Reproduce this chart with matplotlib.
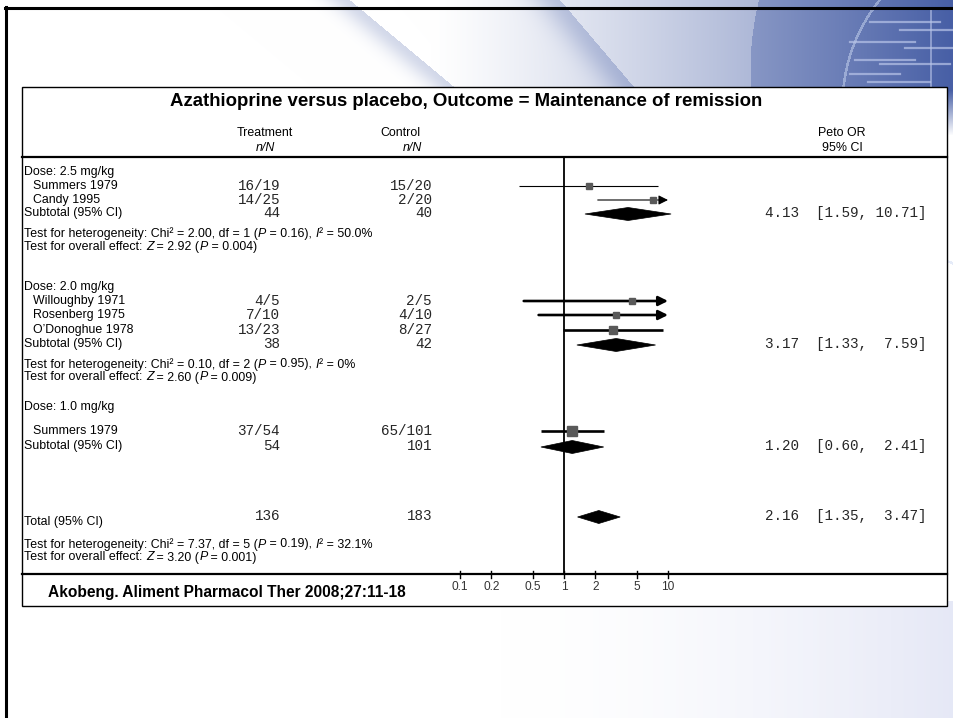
import numpy as np
import matplotlib.pyplot as plt
from matplotlib.patches import Rectangle, Polygon

plt.rcParams['font.family'] = ['Liberation Sans', 'DejaVu Sans']

# --- data -------------------------------------------------------------
title = "Azathioprine versus placebo, Outcome = Maintenance of remission"
source = "Akobeng. Aliment Pharmacol Ther 2008;27:11-18"

doses = ["Dose: 2.5 mg/kg", "Dose: 2.0 mg/kg", "Dose: 1.0 mg/kg"]
studies = ["Summers 1979", "Candy 1995", "Willoughby 1971", "Rosenberg 1975",
           "O\u2019Donoghue 1978", "Summers 1979"]
study_dose = [0, 0, 1, 1, 1, 2]
treat_n = [16, 14, 4, 7, 13, 37]
treat_N = [19, 25, 5, 10, 23, 54]
ctrl_n = [15, 2, 2, 4, 8, 65]
ctrl_N = [20, 20, 5, 10, 27, 101]
study_or = [1.73, 7.11, 4.48, 3.16, 2.95, 1.20]
study_lo = [0.37, 2.11, 0.41, 0.57, 0.97, 0.60]
study_hi = [8.05, 23.98, 49.4, 17.6, 9.00, 2.41]
study_weight = [9.4, 15.1, 3.9, 7.5, 17.9, 46.1]

sub_treat = [44, 38, 54]
sub_ctrl = [40, 42, 101]
sub_or = [4.13, 3.17, 1.20]
sub_lo = [1.59, 1.33, 0.60]
sub_hi = [10.71, 7.59, 2.41]

total_treat, total_ctrl = 136, 183
total_or, total_lo, total_hi = 2.16, 1.35, 3.47

# heterogeneity / overall effect: three subgroups then the total
het_chi = [2.00, 0.10, 7.37]
het_df = [1, 2, 5]
het_p = ["0.16", "0.95", "0.19"]
het_i2 = ["50.0%", "0%", "32.1%"]
eff_z = [2.92, 2.60, 3.20]
eff_p = ["0.004", "0.009", "0.001"]

ticks = [0.1, 0.2, 0.5, 1, 2, 5, 10]

# --- layout (pixel rows) ---------------------------------------------
W, H = 954, 718
group_y = [172, 287, 407]
study_y = [186, 200, 301, 315, 330, 431]
sub_y = [213, 344, 446]
het_y = [234, 364.5, 544.5]
total_y, total_label_y = 516, 522
study_lw = [0.8, 0.8, 1.9, 1.9, 1.9, 1.9]

x_label, x_indent = 24, 33
x_treat, x_ctrl, x_stat = 280, 432, 927
mono = 'Liberation Mono'
mono_col = '#262626'
fs, fs_mono = 8.9, 10.3

fig = plt.figure(figsize=(W / 100, H / 100), dpi=100)
renderer = fig.canvas.get_renderer()

# slide background
bg = fig.add_axes([0, 0, 1, 1])
bg.set_xlim(0, W)
bg.set_ylim(H, 0)
bg.axis('off')

yy, xx = np.mgrid[0:H, 0:W].astype(float)
tint = np.clip((xx - 430) / 520, 0, 1) ** 1.2 * 0.72
tint = np.where(np.hypot(xx - 1045, yy - 70) < 295, tint + 0.2, tint)
for x0, slope, width in [(350, 1.2, 24), (560, 0.85, 28)]:
    d = xx - (x0 + slope * yy)
    tint += np.where(d < 0, 0.22 * np.exp(-(d / width) ** 2), 0)
tint = np.clip(tint, 0, 0.95) * np.clip((135 - yy) / 45, 0, 1)
ring = np.abs(np.hypot(xx - 1010, yy - 105) - 168) < 1.3
lav = np.clip((xx - 500) / 454, 0, 1) ** 1.6 * 0.5 * (yy > 600)
blue = np.array([0.22, 0.32, 0.62])
lavender = np.array([0.80, 0.82, 0.93])
img = 1 - tint[..., None] * (1 - blue) - lav[..., None] * (1 - lavender)
img[ring] = img[ring] * 0.5 + 0.5 * np.array([0.80, 0.85, 0.95])
bg.imshow(np.clip(img, 0, 1), extent=[0, W, H, 0], interpolation='bilinear',
          aspect='auto', zorder=0)
for y, xa, xb in [(22, 870, 940), (30, 900, 954), (42, 850, 915), (48, 905, 954),
                  (60, 855, 915), (64, 880, 950), (74, 850, 900), (82, 868, 930)]:
    bg.plot([xa, xb], [y, y], color='#b8c4e8', lw=1.6, alpha=0.7, zorder=1)
bg.plot([931, 931], [8, 88], color='#b8c4e8', lw=1.2, alpha=0.7, zorder=1)
bg.plot([5, W], [7.5, 7.5], color='black', lw=2.2, zorder=3)
bg.plot([6, 6], [7, H], color='black', lw=2.2, zorder=3)

# panel
bg.add_patch(Rectangle((22, 87), 925, 519, facecolor='white',
                       edgecolor='black', lw=1.0, zorder=2))
bg.plot([22, 947], [157, 157], color='black', lw=1.6, zorder=3)
bg.plot([22, 947], [574, 574], color='black', lw=1.6, zorder=3)

txt = dict(va='center', zorder=4)
bg.text(466, 101, title, ha='center', fontsize=13.4, fontweight='bold', **txt)
bg.text(265, 133, "Treatment", ha='center', fontsize=fs, **txt)
bg.text(265, 148, "n/N", ha='center', fontsize=fs, style='italic', **txt)
bg.text(400, 133, "Control", ha='center', fontsize=fs, **txt)
bg.text(412, 148, "n/N", ha='center', fontsize=fs, style='italic', **txt)
bg.text(842, 133, "Peto OR", ha='center', fontsize=fs, **txt)
bg.text(842, 148, "95% CI", ha='center', fontsize=fs, **txt)
bg.text(48, 592, source, ha='left', fontsize=11.2, fontweight='bold', **txt)


def stat_text(o, lo, hi):
    return f"{o:.2f}  [{lo:.2f}, {hi:5.2f}]"


def text_width(s):
    t = bg.text(0, 0, s, fontsize=fs)
    w = t.get_window_extent(renderer).width
    t.remove()
    return w


def rich_text(x, y, parts):
    """Draw a line made of plain and italic pieces, left to right."""
    prefix = ""
    for s, italic in parts:
        off = text_width(prefix + "l") - text_width("l") if prefix else 0
        bg.text(x + off, y, s, ha='left', fontsize=fs,
                style='italic' if italic else 'normal', **txt)
        prefix += s


mono_txt = dict(fontsize=fs_mono, family=mono, color=mono_col, **txt)
for g, name in enumerate(doses):
    bg.text(x_label, group_y[g], name, ha='left', fontsize=fs, **txt)
    bg.text(x_label, sub_y[g], "Subtotal (95% CI)", ha='left', fontsize=fs, **txt)
    bg.text(x_treat, sub_y[g], str(sub_treat[g]), ha='right', **mono_txt)
    bg.text(x_ctrl, sub_y[g], str(sub_ctrl[g]), ha='right', **mono_txt)
    bg.text(x_stat, sub_y[g], stat_text(sub_or[g], sub_lo[g], sub_hi[g]),
            ha='right', **mono_txt)

for i, name in enumerate(studies):
    bg.text(x_indent, study_y[i], name, ha='left', fontsize=fs, **txt)
    bg.text(x_treat, study_y[i], f"{treat_n[i]}/{treat_N[i]}", ha='right', **mono_txt)
    bg.text(x_ctrl, study_y[i], f"{ctrl_n[i]}/{ctrl_N[i]}", ha='right', **mono_txt)

bg.text(x_label, total_label_y, "Total (95% CI)", ha='left', fontsize=fs, **txt)
bg.text(x_treat, total_y, str(total_treat), ha='right', **mono_txt)
bg.text(x_ctrl, total_y, str(total_ctrl), ha='right', **mono_txt)
bg.text(x_stat, total_y, stat_text(total_or, total_lo, total_hi), ha='right', **mono_txt)

for k in range(3):
    rich_text(x_label, het_y[k], [
        (f"Test for heterogeneity: Chi\u00b2 = {het_chi[k]:.2f}, df = {het_df[k]} (", False),
        ("P", True), (f" = {het_p[k]}), ", False), ("I", True),
        (f"\u00b2 = {het_i2[k]}", False)])
    rich_text(x_label, het_y[k] + 13, [
        ("Test for overall effect: ", False), ("Z", True),
        (f" = {eff_z[k]:.2f} (", False), ("P", True), (f" = {eff_p[k]})", False)])

# forest plot on a log odds-ratio scale
fa = fig.add_axes([460 / W, 0, 208 / W, 1])
fa.set_xscale('log')
fa.set_xlim(ticks[0], ticks[-1])
fa.set_ylim(H, 0)
fa.axis('off')

fa.plot([1, 1], [157, 574], color='black', lw=1.3, clip_on=False, zorder=3)
for t in ticks:
    fa.plot([t, t], [570.5, 577.5], color='black', lw=1.0, clip_on=False)
    fa.text(t, 587, f"{t:g}", ha='center', va='center', fontsize=8.6, color='#333333')

xmin, xmax = ticks[0], ticks[-1]
for i in range(len(studies)):
    y = study_y[i]
    lo = max(study_lo[i], xmin)
    if study_hi[i] > xmax:
        fa.annotate('', xy=(xmax, y), xytext=(lo, y), annotation_clip=False,
                    arrowprops=dict(arrowstyle='-|>', color='black', lw=study_lw[i],
                                    shrinkA=0, shrinkB=0, mutation_scale=14))
    else:
        fa.plot([lo, study_hi[i]], [y, y], color='black', lw=study_lw[i],
                clip_on=False, solid_capstyle='butt')
    side = 4 + 0.75 * np.sqrt(study_weight[i])
    fa.plot(study_or[i], y, marker='s', ms=side * 0.72, color='#595959',
            mec='#595959', clip_on=False, zorder=4)


def diamond(o, lo, hi, y, h=6.5):
    fa.add_patch(Polygon([(lo, y), (o, y - h), (hi, y), (o, y + h)], closed=True,
                         facecolor='black', edgecolor='black', lw=0.5,
                         clip_on=False, zorder=4))


for g in range(3):
    diamond(sub_or[g], sub_lo[g], sub_hi[g], sub_y[g] + 1)
diamond(total_or, total_lo, total_hi, total_y + 1)

fig.savefig('out.png', dpi=100)
